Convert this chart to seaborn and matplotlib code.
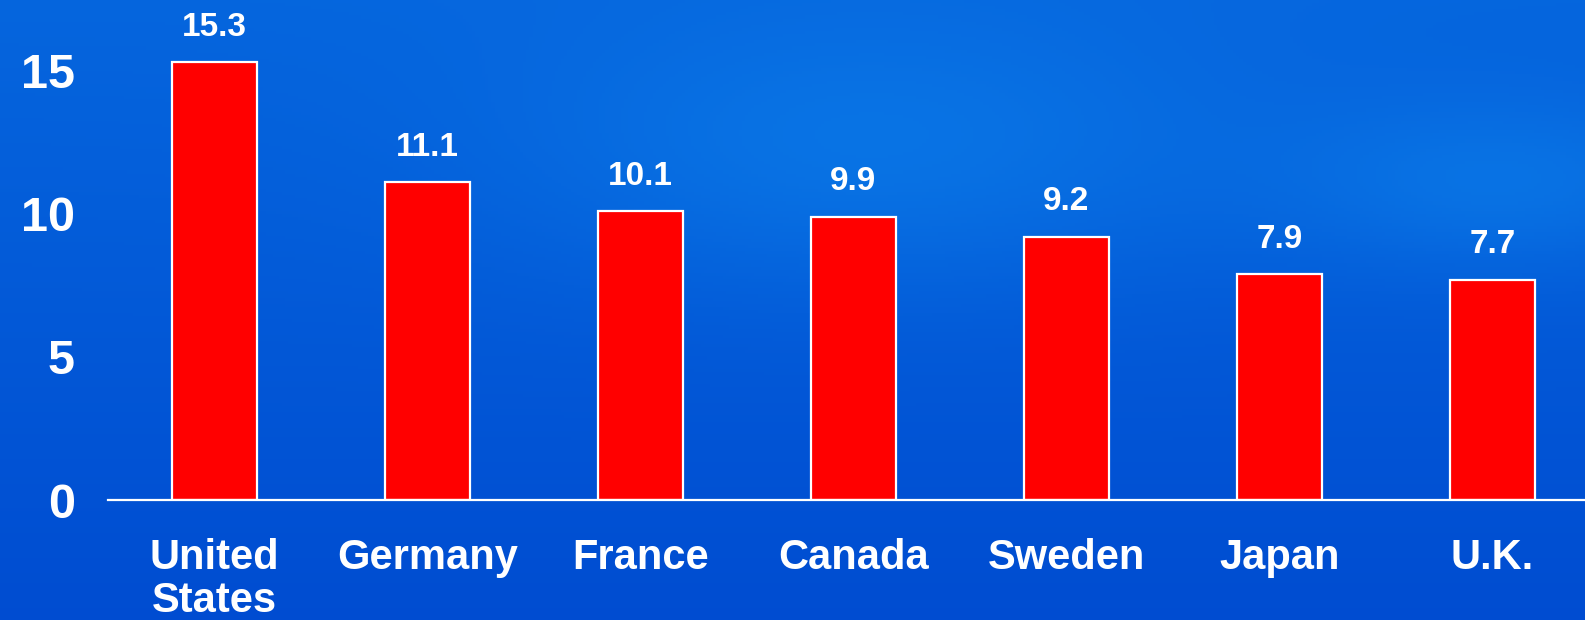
import numpy as np
import pandas as pd
import matplotlib
matplotlib.use("Agg")
import matplotlib.pyplot as plt
import seaborn as sns

categories = ["United\nStates", "Germany", "France", "Canada", "Sweden", "Japan", "U.K."]
values = [15.3, 11.1, 10.1, 9.9, 9.2, 7.9, 7.7]
value_labels = ["15.3", "11.1", "10.1", "9.9", "9.2", "7.9", "7.7"]
yticks = [0, 5, 10, 15]

sns.set_theme(style="white")
plt.rcParams["font.family"] = ["Liberation Sans", "DejaVu Sans"]
plt.rcParams["font.weight"] = "bold"

W, H = 1585, 620
fig = plt.figure(figsize=(W / 100, H / 100), dpi=100)

# background: smooth blue gradient
bg = fig.add_axes([0, 0, 1, 1], zorder=-10)
yy, xx = np.mgrid[0:1:200j, 0:1:500j]
base = np.array([0.0, 0.30, 0.82])
light = np.array([0.05, 0.52, 0.93])
t = np.clip(0.45 * (1 - yy) + 0.35 * np.exp(-((xx - 0.55) ** 2 + (yy - 0.25) ** 2) / 0.05)
            + 0.35 * np.exp(-((xx - 0.95) ** 2 + (yy - 0.3) ** 2) / 0.02), 0, 1)
img = base[None, None, :] * (1 - t[..., None]) + light[None, None, :] * t[..., None]
bg.imshow(img, aspect="auto", extent=[0, 1, 0, 1], origin="upper")
bg.axis("off")

ax = fig.add_axes([108 / W, 120 / H, 1491 / W, 500 / H])
ax.patch.set_alpha(0)
df = pd.DataFrame({"country": categories, "value": values})
sns.barplot(data=df, x="country", y="value", color="#ff0000", saturation=1,
            edgecolor="white", linewidth=1.6, width=0.395, ax=ax)

ax.set_xlim(-0.5, 6.5)
ax.set_ylim(0, 17.48)
ax.set_yticks(yticks)
ax.set_yticklabels([str(v) for v in yticks])
ax.tick_params(axis="y", length=0, pad=24, labelsize=35, labelcolor="white")
ax.tick_params(axis="x", length=0, labelbottom=False)
ax.set_xlabel("")
ax.set_ylabel("")
for s in ["top", "right", "left"]:
    ax.spines[s].set_visible(False)
ax.spines["bottom"].set_color("white")
ax.spines["bottom"].set_linewidth(1.6)

# category labels, each line on a common baseline
for i, cat in enumerate(categories):
    for k, line in enumerate(cat.split("\n")):
        ax.annotate(line, (i, 0), xytext=(0, -50 - 31 * k), textcoords="offset points",
                    ha="center", va="baseline", color="white", fontsize=30,
                    fontweight="bold", annotation_clip=False)

for i, (v, lab) in enumerate(zip(values, value_labels)):
    ax.annotate(lab, (i, v), xytext=(0, 14), textcoords="offset points",
                ha="center", va="bottom", color="white", fontsize=24, fontweight="bold")

fig.savefig("out.png", dpi=100)
